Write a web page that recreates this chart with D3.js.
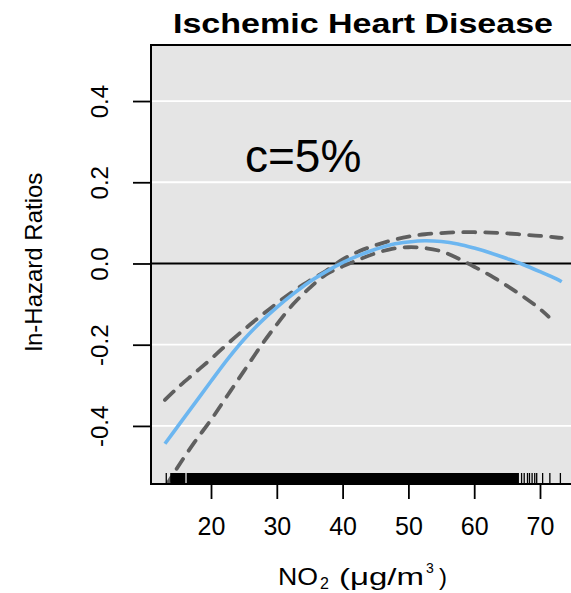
<!DOCTYPE html>
<html>
<head>
<meta charset="utf-8">
<script src="https://cdn.jsdelivr.net/npm/d3@7"></script>
<style>
  html, body { margin: 0; padding: 0; background: #fff; }
  svg { display: block; font-family: "Liberation Sans", Arial, Helvetica, sans-serif; }
</style>
</head>
<body>
<svg id="chart" width="571" height="593"></svg>
<script>
// NO2 concentration grid (µg/m3) at which the smooth is evaluated
const no2 = [13, 15, 17.5, 20, 22.5, 25, 27.5, 30, 32.5, 35, 37.5, 40, 42.5, 45,
             47.5, 50, 52.5, 55, 57.5, 60, 62.5, 65, 67.5, 70, 72.5, 73.3];
// fitted ln-hazard ratio
const fit = [-0.444, -0.400, -0.345, -0.290, -0.236, -0.187, -0.145, -0.108, -0.075, -0.045,
             -0.020, 0.002, 0.020, 0.035, 0.047, 0.053, 0.056, 0.054, 0.048, 0.038,
             0.026, 0.012, -0.003, -0.020, -0.038, -0.045];
// upper 95% confidence bound
const upper = [-0.336, -0.305, -0.270, -0.235, -0.198, -0.163, -0.130, -0.098, -0.068, -0.042,
               -0.018, 0.010, 0.030, 0.045, 0.057, 0.066, 0.072, 0.075, 0.077, 0.077,
               0.076, 0.074, 0.071, 0.068, 0.064, 0.063];
// lower 95% confidence bound (drawn up to 71.3)
const lowerNo2 = [13, 15, 17.5, 20, 22.5, 25, 27.5, 30, 32.5, 35, 37.5, 40, 42.5, 45,
                  47.5, 50, 52.5, 55, 57.5, 60, 62.5, 65, 67.5, 70, 71.3];
const lower = [-0.552, -0.500, -0.440, -0.385, -0.325, -0.265, -0.205, -0.150, -0.100, -0.060,
               -0.027, -0.007, 0.010, 0.025, 0.036, 0.040, 0.038, 0.030, 0.013, -0.008,
               -0.030, -0.055, -0.082, -0.112, -0.131];

// rug of observed exposures: densely covered ranges and isolated values
const rugBands = [[13.8, 16.1], [16.3, 66.8]];
const rugTicks = [13.2, 67.2, 67.6, 68.1, 68.4, 68.8, 69.2, 69.5, 70.4, 71.5, 73.1];

const xTicks = [20, 30, 40, 50, 60, 70];
const yTicks = [-0.4, -0.2, 0.0, 0.2, 0.4];

const titleText = "Ischemic Heart Disease";
const annotation = "c=5%";
const yLabel = "ln-Hazard Ratios";

const svg = d3.select("#chart");
const plot = { left: 151, right: 575, top: 45, bottom: 484 };

const x = d3.scaleLinear().domain([10.88, 75.32]).range([plot.left, plot.right]);
const y = d3.scaleLinear().domain([-0.543, 0.538]).range([plot.bottom, plot.top]);

// panel background
svg.append("rect")
  .attr("x", plot.left).attr("y", plot.top)
  .attr("width", plot.right - plot.left).attr("height", plot.bottom - plot.top)
  .attr("fill", "#e5e5e5");

svg.append("clipPath").attr("id", "panel")
  .append("rect")
  .attr("x", plot.left).attr("y", plot.top)
  .attr("width", plot.right - plot.left).attr("height", plot.bottom - plot.top);

// white reference lines at the y ticks, black line at zero
svg.append("g").selectAll("line")
  .data(yTicks)
  .join("line")
  .attr("x1", plot.left).attr("x2", plot.right)
  .attr("y1", d => y(d)).attr("y2", d => y(d))
  .attr("stroke", d => d === 0 ? "#000" : "#fff")
  .attr("stroke-width", 1.8);

const g = svg.append("g").attr("clip-path", "url(#panel)");

const line = (xs, vals) => d3.line()
  .x((d, i) => x(xs[i]))
  .y(d => y(d))
  .curve(d3.curveCatmullRom.alpha(0.5))(vals);

// confidence bounds
[[no2, upper], [lowerNo2, lower]].forEach(([xs, vals]) => {
  g.append("path")
    .attr("d", line(xs, vals))
    .attr("fill", "none")
    .attr("stroke", "#5f5f5f")
    .attr("stroke-width", 3.8)
    .attr("stroke-linecap", "round")
    .attr("stroke-dasharray", "12,10");
});

// fitted curve
g.append("path")
  .attr("d", line(no2, fit))
  .attr("fill", "none")
  .attr("stroke", "#6cb6f0")
  .attr("stroke-width", 3.6);

// rug
const rugTop = plot.bottom - 11;
g.append("g").selectAll("rect")
  .data(rugBands)
  .join("rect")
  .attr("x", d => x(d[0])).attr("width", d => x(d[1]) - x(d[0]))
  .attr("y", rugTop).attr("height", plot.bottom - rugTop)
  .attr("fill", "#000");
g.append("g").selectAll("line")
  .data(rugTicks)
  .join("line")
  .attr("x1", d => x(d)).attr("x2", d => x(d))
  .attr("y1", rugTop).attr("y2", plot.bottom)
  .attr("stroke", "#000")
  .attr("stroke-width", 1.3);

// panel frame
svg.append("rect")
  .attr("x", plot.left).attr("y", plot.top)
  .attr("width", plot.right - plot.left).attr("height", plot.bottom - plot.top)
  .attr("fill", "none").attr("stroke", "#000").attr("stroke-width", 2);

// y axis
const yAxis = svg.append("g")
  .attr("transform", `translate(${plot.left},0)`)
  .call(d3.axisLeft(y).tickValues(yTicks).tickSize(18).tickFormat(d => d.toFixed(1)));
yAxis.select(".domain").remove();
yAxis.selectAll(".tick line").attr("stroke", "#000").attr("stroke-width", 1.8);
yAxis.selectAll(".tick text")
  .attr("x", null).attr("dy", null)
  .attr("transform", "translate(-43,0) rotate(-90)")
  .attr("text-anchor", "middle")
  .attr("font-size", 24)
  .attr("font-family", "'Liberation Sans', Arial, sans-serif")
  .attr("fill", "#000");

// x axis
const xAxis = svg.append("g")
  .attr("transform", `translate(0,${plot.bottom})`)
  .call(d3.axisBottom(x).tickValues(xTicks).tickSize(15).tickFormat(d3.format("d")));
xAxis.select(".domain").remove();
xAxis.selectAll(".tick line").attr("stroke", "#000").attr("stroke-width", 1.8);
xAxis.selectAll(".tick text")
  .attr("y", 51).attr("dy", null)
  .attr("font-size", 25)
  .attr("font-family", "'Liberation Sans', Arial, sans-serif")
  .attr("fill", "#000");

// title
svg.append("text")
  .attr("x", 173).attr("y", 33)
  .attr("font-size", 28).attr("font-weight", "bold")
  .attr("textLength", 380).attr("lengthAdjust", "spacingAndGlyphs")
  .text(titleText);

// annotation
svg.append("text")
  .attr("x", 245).attr("y", 172)
  .attr("font-size", 46)
  .text(annotation);

// y axis title
svg.append("text")
  .attr("transform", "translate(42,262) rotate(-90)")
  .attr("text-anchor", "middle")
  .attr("font-size", 24)
  .text(yLabel);

// x axis title: NO2 (µg/m3 ) with subscript and superscript
const xl = svg.append("g").attr("font-size", 24);
const base = 585;
xl.append("text").attr("x", 278).attr("y", base)
  .attr("textLength", 40).attr("lengthAdjust", "spacingAndGlyphs").text("NO");
xl.append("text").attr("x", 320).attr("y", base + 4).attr("font-size", 16).text("2");
xl.append("text").attr("x", 339).attr("y", base)
  .attr("textLength", 85).attr("lengthAdjust", "spacingAndGlyphs").text("(\u03bcg/m");
xl.append("text").attr("x", 426).attr("y", base - 12).attr("font-size", 14).text("3");
xl.append("text").attr("x", 439).attr("y", base).text(")");
</script>
</body>
</html>
